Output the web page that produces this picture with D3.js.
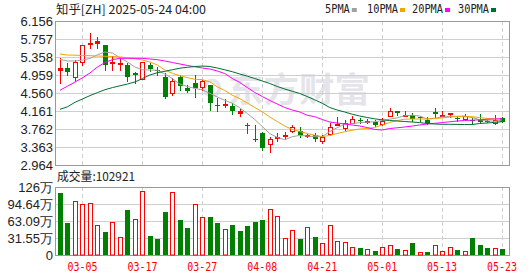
<!DOCTYPE html>
<html>
<head>
<meta charset="utf-8">
<script src="https://cdn.jsdelivr.net/npm/d3@7"></script>
<style>
  body { margin: 0; background: #fff; }
  svg text { font-family: "Liberation Sans", Arial, sans-serif; }
</style>
</head>
<body>
<svg id="chart" width="530" height="276"></svg>
<script>
// Trading days shown on the chart
const dates = [
  "02-28", "03-03", "03-04", "03-05", "03-06", "03-07", "03-10", "03-11", "03-12", "03-13",
  "03-14", "03-17", "03-18", "03-19", "03-20", "03-21", "03-24", "03-25", "03-26", "03-27",
  "03-28", "03-31", "04-01", "04-02", "04-03", "04-04", "04-07", "04-08", "04-09", "04-10",
  "04-11", "04-14", "04-15", "04-16", "04-17", "04-21", "04-22", "04-23", "04-24", "04-25",
  "04-28", "04-29", "04-30", "05-01", "05-02", "05-05", "05-06", "05-07", "05-08", "05-09",
  "05-12", "05-13", "05-14", "05-15", "05-16", "05-19", "05-20", "05-21", "05-22", "05-23",
];

const opens = [
  5.07, 5.11, 4.92, 5.25, 5.64, 5.66, 5.62, 5.22, 5.21, 5.18,
  5.01, 4.87, 5.18, 5.08, 4.91, 4.57, 4.92, 4.68, 4.79, 4.70,
  4.74, 4.30, 4.31, 4.27, 4.11, 3.84, 3.53, 3.68, 3.42, 3.57,
  3.62, 3.72, 3.72, 3.60, 3.63, 3.50, 3.65, 3.865, 3.78, 3.89,
  3.96, 3.92, 3.91, 3.87, 4.06, 4.15, 4.07, 4.07, 4.03, 3.96,
  4.13, 4.06, 4.10, 4.00, 3.98, 3.97, 3.96, 3.94, 3.90, 4.01,
];
const highs = [
  5.34, 5.22, 5.29, 5.63, 5.89, 5.81, 5.63, 5.37, 5.33, 5.22,
  5.03, 5.25, 5.23, 5.14, 5.01, 4.89, 4.96, 4.74, 4.96, 4.85,
  4.74, 4.44, 4.42, 4.33, 4.20, 3.90, 3.85, 3.70, 3.59, 3.67,
  3.70, 3.85, 3.80, 3.66, 3.68, 3.63, 3.89, 4.03, 3.97, 4.05,
  4.00, 3.98, 3.96, 4.00, 4.22, 4.17, 4.15, 4.11, 4.05, 4.03,
  4.22, 4.15, 4.11, 4.05, 4.09, 4.01, 4.09, 3.96, 4.07, 4.02,
];
const lows = [
  4.78, 4.96, 4.83, 5.17, 5.55, 5.55, 5.07, 5.07, 5.06, 4.83,
  4.78, 4.86, 5.05, 4.96, 4.44, 4.52, 4.63, 4.59, 4.47, 4.63,
  4.18, 4.17, 4.24, 4.09, 4.04, 3.67, 3.50, 3.30, 3.26, 3.50,
  3.53, 3.70, 3.59, 3.58, 3.50, 3.46, 3.63, 3.86, 3.74, 3.89,
  3.89, 3.90, 3.83, 3.85, 4.04, 4.07, 4.07, 3.95, 3.95, 3.87,
  4.02, 4.06, 4.03, 3.93, 3.96, 3.90, 3.90, 3.91, 3.87, 3.92,
];
const closes = [
  5.11, 5.02, 5.25, 5.62, 5.66, 5.71, 5.19, 5.24, 5.23, 4.92,
  4.96, 5.24, 5.09, 5.05, 4.47, 4.83, 4.72, 4.61, 4.66, 4.83,
  4.33, 4.29, 4.32, 4.15, 4.15, 3.83, 3.51, 3.33, 3.53, 3.58,
  3.64, 3.80, 3.63, 3.63, 3.53, 3.58, 3.80, 3.875, 3.89, 3.98,
  3.94, 3.93, 3.85, 3.95, 4.15, 4.11, 4.08, 3.98, 4.01, 3.89,
  4.10, 4.07, 4.11, 3.99, 4.06, 3.96, 3.91, 3.93, 3.96, 3.92,
];

// Moving averages
const ma5 = [
  5.307, 5.269, 5.269, 5.291, 5.325, 5.407, 5.469, 5.447, 5.342, 5.247,
  5.136, 5.074, 5.070, 5.065, 4.981, 4.879, 4.759, 4.704, 4.662, 4.631,
  4.553, 4.471, 4.398, 4.332, 4.232, 4.106, 3.973, 3.817, 3.660, 3.576,
  3.525, 3.591, 3.620, 3.607, 3.591, 3.593, 3.704, 3.791, 3.866, 3.882,
  3.904, 3.913, 3.924, 3.948, 3.979, 4.008, 4.055, 4.068, 4.050, 3.984,
  3.999, 4.028, 4.039, 4.044, 4.050, 4.015, 3.970, 3.944, 3.933, 3.961,
];
const ma10 = [
  5.424, 5.402, 5.398, 5.391, 5.387, 5.380, 5.374, 5.369, 5.358, 5.340,
  5.320, 5.291, 5.247, 5.181, 5.070, 4.997, 4.943, 4.901, 4.864, 4.857,
  4.808, 4.697, 4.615, 4.511, 4.436, 4.338, 4.239, 4.143, 4.028, 3.928,
  3.828, 3.751, 3.707, 3.662, 3.625, 3.593, 3.618, 3.662, 3.700, 3.735,
  3.762, 3.773, 3.795, 3.851, 3.906, 3.950, 3.979, 3.984, 3.984, 3.984,
  3.995, 4.006, 4.028, 4.035, 4.035, 4.035, 4.015, 3.997, 3.988, 3.984,
];
const ma20 = [
  4.622, 4.711, 4.804, 4.897, 5.003, 5.136, 5.236, 5.300, 5.329, 5.329,
  5.329, 5.329, 5.314, 5.298, 5.269, 5.236, 5.203, 5.170, 5.141, 5.114,
  5.092, 5.048, 4.990, 4.881, 4.793, 4.682, 4.571, 4.482, 4.394, 4.316,
  4.239, 4.183, 4.139, 4.066, 4.035, 3.973, 3.917, 3.895, 3.873, 3.851,
  3.828, 3.795, 3.751, 3.740, 3.773, 3.789, 3.806, 3.828, 3.851, 3.873,
  3.888, 3.904, 3.922, 3.939, 3.950, 3.957, 3.966, 3.977, 3.984, 3.990,
];
const ma30 = [
  4.199, 4.254, 4.354, 4.427, 4.502, 4.569, 4.633, 4.680, 4.720, 4.759,
  4.804, 4.881, 4.959, 5.010, 5.041, 5.076, 5.110, 5.130, 5.147, 5.158,
  5.147, 5.114, 5.074, 5.032, 4.981, 4.932, 4.881, 4.826, 4.771, 4.704,
  4.649, 4.598, 4.549, 4.482, 4.409, 4.332, 4.239, 4.183, 4.139, 4.090,
  4.050, 4.017, 3.988, 3.966, 3.950, 3.939, 3.928, 3.917, 3.904, 3.884,
  3.873, 3.866, 3.866, 3.864, 3.862, 3.860, 3.884, 3.895, 3.908, 3.924,
];

// Volume in 万 shares, and whether the bar is drawn red (1) or green (0)
const volumes = [
  115.6, 60.0, 100.2, 94.6, 95.9, 55.7, 43.3, 60.6, 32.8, 83.5,
  66.8, 118.8, 35.3, 29.7, 79.8, 116.3, 64.9, 50.1, 94.1, 70.0,
  70.5, 59.4, 47.7, 55.7, 44.5, 53.8, 61.2, 64.9, 84.8, 72.4,
  30.9, 46.4, 29.7, 51.3, 33.4, 22.9, 55.7, 26.0, 24.1, 14.2,
  12.4, 10.5, 7.4, 14.2, 18.0, 10.5, 8.7, 22.9, 5.0, 5.6,
  18.0, 7.4, 15.5, 9.3, 6.8, 31.5, 18.6, 13.0, 12.4, 10.2921,
];
const volumeUp = [
  0, 0, 1, 1, 1, 1, 0, 1, 1, 0,
  1, 1, 0, 0, 0, 1, 0, 0, 1, 1,
  0, 0, 1, 0, 0, 0, 0, 0, 1, 1,
  1, 1, 0, 1, 0, 1, 1, 1, 1, 1,
  0, 1, 0, 1, 1, 0, 1, 0, 1, 0,
  1, 1, 1, 0, 1, 0, 0, 0, 1, 0,
];

const priceTicks = [6.156, 5.757, 5.358, 4.959, 4.56, 4.161, 3.762, 3.363, 2.964];
const volumeTicks = [0, 31.55, 63.09, 94.64, 126.18];
const volumeTickLabels = ["0", "31.55万", "63.09万", "94.64万", "126万"];
const dateTicks = ["03-05", "03-17", "03-27", "04-08", "04-21", "05-01", "05-13", "05-23"];

const maNames = ["5PMA", "10PMA", "20PMA", "30PMA"];
const maColors = ["#a0a0a0", "#f5a300", "#ff00ff", "#006e33"];
const title = "知乎[ZH] 2025-05-24 04:00";

// Layout
const plotLeft = 55, plotRight = 509;
const priceTop = 21, priceBottom = 165;
const volTop = 187, volBottom = 255;
const red = "#ff0000", green = "#008000";

const svg = d3.select("#chart");

const x = d3.scalePoint().domain(dates).range([60, 502]);
const y = d3.scaleLinear().domain([2.964, 6.156]).range([priceBottom, priceTop]);
const yVol = d3.scaleLinear().domain([0, 126.18]).range([volBottom, volTop]);

const px = (v) => Math.round(v) + 0.5;

function drawGrid(scale, ticks, top, bottom) {
  const g = svg.append("g");
  g.selectAll(".hgrid")
    .data(ticks)
    .enter()
    .append("line")
    .attr("x1", plotLeft)
    .attr("x2", plotRight)
    .attr("y1", (d) => px(scale(d)))
    .attr("y2", (d) => px(scale(d)))
    .attr("stroke", "#cfcfcf");
  g.selectAll(".vgrid")
    .data(dateTicks)
    .enter()
    .append("line")
    .attr("x1", (d) => px(x(d)))
    .attr("x2", (d) => px(x(d)))
    .attr("y1", top)
    .attr("y2", bottom)
    .attr("stroke", "#cfcfcf")
    .attr("stroke-dasharray", "4,3");
  g.append("rect")
    .attr("x", plotLeft + 0.5)
    .attr("y", top + 0.5)
    .attr("width", plotRight - plotLeft)
    .attr("height", bottom - top)
    .attr("fill", "none")
    .attr("stroke", "#999");
}

function drawWatermark() {
  const c = "#e4e4ea";
  svg.append("circle")
    .attr("cx", 212).attr("cy", 88).attr("r", 7.5)
    .attr("fill", "none").attr("stroke", c).attr("stroke-width", 4);
  svg.append("text")
    .attr("x", 228).attr("y", 102)
    .attr("textLength", 142).attr("lengthAdjust", "spacingAndGlyphs")
    .style("font-family", "'Noto Sans CJK SC', sans-serif")
    .style("font-size", "34px").style("font-weight", "bold")
    .attr("fill", c)
    .text("东方财富");
}

function drawCandles() {
  const data = dates.map((d, i) => ({
    date: d, open: opens[i], high: highs[i], low: lows[i], close: closes[i],
  }));
  const g = svg.append("g");
  data.forEach((d) => {
    const up = d.close >= d.open;
    const color = up ? red : green;
    const cx = Math.round(x(d.date));
    const top = Math.round(y(Math.max(d.open, d.close)));
    const bot = Math.round(y(Math.min(d.open, d.close)));
    const h = bot - top;
    g.append("line")
      .attr("x1", cx + 0.5).attr("x2", cx + 0.5)
      .attr("y1", Math.round(y(d.high))).attr("y2", Math.round(y(d.low)) + 1)
      .attr("stroke", color);
    if (!up || h <= 2) {
      g.append("rect")
        .attr("x", cx - 2).attr("y", top)
        .attr("width", 5).attr("height", Math.max(h, 1) + (up ? 1 : 0))
        .attr("fill", color);
    } else {
      g.append("rect")
        .attr("x", cx - 1.5).attr("y", top + 0.5)
        .attr("width", 4).attr("height", h)
        .attr("fill", "#fff").attr("stroke", color);
    }
  });
}

function drawMovingAverages() {
  const line = d3.line().x((d, i) => x(dates[i])).y((d) => y(d));
  [ma5, ma10, ma20, ma30].forEach((series, k) => {
    svg.append("path")
      .datum(series)
      .attr("d", line)
      .attr("fill", "none")
      .attr("stroke", maColors[k])
      .attr("stroke-width", 1);
  });
}

function drawVolume() {
  const g = svg.append("g");
  volumes.forEach((v, i) => {
    const cx = Math.round(x(dates[i]));
    const top = Math.round(yVol(v));
    if (volumeUp[i]) {
      g.append("rect")
        .attr("x", cx - 1.5).attr("y", top + 0.5)
        .attr("width", 4).attr("height", volBottom - top - 0.5)
        .attr("fill", "#fff").attr("stroke", red);
    } else {
      g.append("rect")
        .attr("x", cx - 2).attr("y", top)
        .attr("width", 5).attr("height", volBottom - top)
        .attr("fill", green);
    }
  });
}

function drawAxes() {
  const styleAxis = (g) => {
    g.select(".domain").remove();
    g.selectAll("text")
      .attr("fill", "#222")
      .style("font-family", "'Liberation Sans', Arial, sans-serif")
      .style("font-size", "13px");
  };
  svg.append("g")
    .attr("transform", "translate(53,0)")
    .call(d3.axisLeft(y).tickValues(priceTicks).tickFormat(d3.format(".3f")).tickSize(0).tickPadding(0))
    .call(styleAxis);
  svg.append("g")
    .attr("transform", "translate(53,0)")
    .call(d3.axisLeft(yVol).tickValues(volumeTicks).tickFormat((d, i) => volumeTickLabels[i]).tickSize(0).tickPadding(0))
    .call(styleAxis);

  svg.selectAll(".dateLabel")
    .data(dateTicks)
    .enter()
    .append("text")
    .attr("x", (d) => x(d))
    .attr("y", 271)
    .attr("text-anchor", "middle")
    .attr("textLength", 30)
    .attr("lengthAdjust", "spacingAndGlyphs")
    .attr("fill", red)
    .style("font-family", "'DejaVu Sans Mono', monospace")
    .style("font-size", "12px")
    .text((d) => d);
}

function drawHeader() {
  svg.append("text")
    .attr("x", 56).attr("y", 14)
    .attr("textLength", 150).attr("lengthAdjust", "spacingAndGlyphs")
    .attr("fill", "#222")
    .style("font-family", "'Noto Sans CJK SC', sans-serif")
    .style("font-size", "12px")
    .text(title);

  // Legend for the moving averages
  const legendX = [325, 367, 412, 458];
  maNames.forEach((name, k) => {
    const w = name.length * 6.2;
    svg.append("text")
      .attr("x", legendX[k]).attr("y", 13)
      .attr("textLength", w).attr("lengthAdjust", "spacingAndGlyphs")
      .attr("fill", "#222")
      .style("font-family", "'DejaVu Sans Mono', monospace")
      .style("font-size", "12px")
      .text(name);
    svg.append("rect")
      .attr("x", legendX[k] + w + 2).attr("y", 8)
      .attr("width", 5).attr("height", 4)
      .attr("fill", maColors[k]);
  });

  const lastVolume = Math.round(volumes[volumes.length - 1] * 10000);
  svg.append("text")
    .attr("x", 57).attr("y", 181)
    .attr("textLength", 78).attr("lengthAdjust", "spacingAndGlyphs")
    .attr("fill", "#222")
    .style("font-family", "'Noto Sans CJK SC', sans-serif")
    .style("font-size", "12px")
    .text(`成交量:${lastVolume}`);
}

drawWatermark();
drawGrid(y, priceTicks, priceTop, priceBottom);
drawGrid(yVol, volumeTicks, volTop, volBottom);
drawCandles();
drawMovingAverages();
drawVolume();
drawAxes();
drawHeader();
</script>
</body>
</html>
